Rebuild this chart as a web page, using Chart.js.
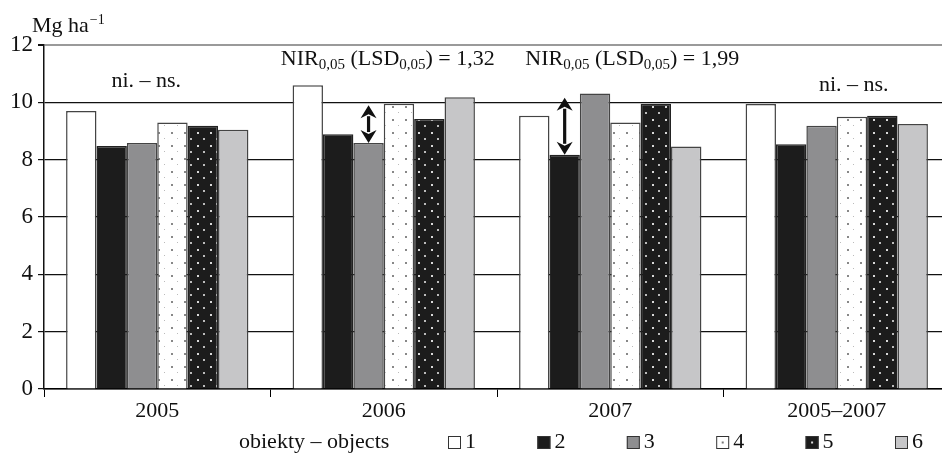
<!DOCTYPE html>
<html>
<head>
<meta charset="utf-8">
<script src="https://cdn.jsdelivr.net/npm/chart.js@4.4.1/dist/chart.umd.min.js"></script>
<style>
  html, body { margin: 0; padding: 0; background: #fff; overflow: hidden; }
  #wrap { width: 952px; height: 453px; }
</style>
</head>
<body>
<div id="wrap"><canvas id="myChart" width="952" height="453"></canvas></div>
<script>
// data (Mg ha-1)
const years = ['2005', '2006', '2007', '2005–2007']
const objectNames = ['1', '2', '3', '4', '5', '6']
const obj1 = [9.70, 10.60, 9.53, 9.94]
const obj2 = [8.48, 8.89, 8.17, 8.54]
const obj3 = [8.58, 8.58, 10.31, 9.18]
const obj4 = [9.30, 9.95, 9.30, 9.50]
const obj5 = [9.18, 9.42, 9.95, 9.53]
const obj6 = [9.04, 10.18, 8.46, 9.24]
const yTicks = [0, 2, 4, 6, 8, 10, 12]

// LSD per year, and which object the arrow sits on
const lsdValues = [null, 1.32, 1.99, null]
const lsdObject = [null, 2, 1, null]
const nsLabel = 'ni. – ns.'
const unitLabel = 'Mg ha'
const legendTitle = 'obiekty – objects'

const FONT = "'Liberation Serif', 'Times New Roman', serif"
const FS = 22

const makePattern = (bg, dots, size) => {
    const c = document.createElement('canvas')
    c.width = size
    c.height = size
    const g = c.getContext('2d')
    g.fillStyle = bg
    g.fillRect(0, 0, size, size)
    dots.forEach(([x, y, s, col]) => {
        g.fillStyle = col
        g.fillRect(x, y, s, s)
    })
    return g.createPattern(c, 'repeat')
}

const ctx = document.getElementById('myChart').getContext('2d')
const whiteDots = makePattern('#ffffff', [[2, 2, 2, '#888'], [8, 8, 1, '#bbb']], 13)
const blackDots = makePattern('#1c1c1c', [[2, 2, 2, '#d8d8d8'], [8, 8, 2, '#bcbcbc']], 13)

const styles = [
    { bg: '#ffffff', border: '#444', base: '#ffffff' },
    { bg: '#1c1c1c', border: '#222', base: '#1c1c1c' },
    { bg: '#8e8e90', border: '#444', base: '#8e8e90' },
    { bg: whiteDots, border: '#444', base: '#ffffff', dot: '#777' },
    { bg: blackDots, border: '#222', base: '#1c1c1c', dot: '#ddd' },
    { bg: '#c6c6c8', border: '#444', base: '#c6c6c8' }
]
const series = [obj1, obj2, obj3, obj4, obj5, obj6]

// text with subscript parts: [text, isSub]
const drawRich = (g, parts, x, y, size) => {
    let cx = x
    parts.forEach(([t, sub]) => {
        g.font = (sub ? Math.round(size * 0.68) : size) + 'px ' + FONT
        g.fillText(t, cx, sub ? y + 4 : y)
        cx += g.measureText(t).width
    })
}

const lsdParts = (v) => [['NIR', false], ['0,05', true], [' (LSD', false], ['0,05', true], [') = ' + v.toFixed(2).replace('.', ','), false]]

const drawArrow = (g, x, y1, y2) => {
    const head = 13
    const half = 8
    g.save()
    g.fillStyle = '#111'
    g.strokeStyle = '#111'
    g.lineWidth = 3.2
    g.beginPath()
    g.moveTo(x, y1 + head - 2)
    g.lineTo(x, y2 - head + 2)
    g.stroke()
    g.beginPath()
    g.moveTo(x, y1)
    g.lineTo(x - half, y1 + head)
    g.lineTo(x, y1 + head - 4)
    g.lineTo(x + half, y1 + head)
    g.closePath()
    g.fill()
    g.beginPath()
    g.moveTo(x, y2)
    g.lineTo(x - half, y2 - head)
    g.lineTo(x, y2 - head + 4)
    g.lineTo(x + half, y2 - head)
    g.closePath()
    g.fill()
    g.restore()
}

const notesPlugin = {
    id: 'notes',
    afterDatasetsDraw(chart) {
        const g = chart.ctx
        const xs = chart.scales.x
        const ys = chart.scales.y
        g.save()
        g.fillStyle = '#111'
        g.textBaseline = 'alphabetic'
        g.textAlign = 'left'

        // arrows + LSD text
        lsdValues.forEach((v, i) => {
            if (v == null) return
            const bar = chart.getDatasetMeta(lsdObject[i]).data[i]
            const base = series[lsdObject[i]][i]
            drawArrow(g, bar.x, ys.getPixelForValue(base + v), ys.getPixelForValue(base))
            const left = xs.getPixelForValue(i) + (i === 1 ? -103 : -85)
            drawRich(g, lsdParts(v), left, 65, FS)
        })

        // ni. - ns.
        g.font = FS + 'px ' + FONT
        g.textAlign = 'center'
        g.fillText(nsLabel, xs.getPixelForValue(0) - 11, 87)
        g.fillText(nsLabel, xs.getPixelForValue(3) + 17, 91)

        // unit label
        g.textAlign = 'left'
        g.font = FS + 'px ' + FONT
        g.fillText(unitLabel, 32, 32)
        const w = g.measureText(unitLabel).width
        g.font = '14px ' + FONT
        g.fillText('−1', 32 + w + 1, 24)

        // legend
        g.font = FS + 'px ' + FONT
        g.textBaseline = 'middle'
        g.fillText(legendTitle, 239, 442)
        chart.data.datasets.forEach((ds, i) => {
            const bx = 448 + i * 89.4
            const st = styles[i]
            g.fillStyle = st.base
            g.fillRect(bx, 436, 13, 13)
            g.strokeStyle = '#333'
            g.lineWidth = 1
            g.strokeRect(bx + 0.5, 436.5, 12, 12)
            if (st.dot) {
                g.fillStyle = st.dot
                g.fillRect(bx + 5.5, 441.5, 2, 2)
            }
            g.fillStyle = '#111'
            g.font = FS + 'px ' + FONT
            g.fillText(ds.label, bx + 17, 442)
        })
        g.restore()
    }
}

new Chart(ctx, {
    type: 'bar',
    data: {
        labels: years,
        datasets: series.map((vals, i) => ({
            label: objectNames[i],
            data: vals,
            backgroundColor: styles[i].bg,
            borderColor: styles[i].border,
            borderWidth: 1.5,
            categoryPercentage: 0.805,
            barPercentage: 1
        }))
    },
    options: {
        responsive: false,
        animation: false,
        layout: { padding: { top: 45, right: 2, left: 0, bottom: 0 } },
        plugins: {
            legend: { display: false },
            tooltip: { enabled: false }
        },
        scales: {
            x: {
                grid: { offset: true, drawOnChartArea: false, tickLength: 8, color: '#000' },
                border: { color: '#000', width: 1.5 },
                ticks: { color: '#111', font: { family: FONT, size: FS }, padding: 1 },
                afterFit: (s) => { s.height = 64 }
            },
            y: {
                min: 0,
                max: 12,
                afterBuildTicks: (s) => { s.ticks = yTicks.map(v => ({ value: v })) },
                ticks: { color: '#111', font: { family: FONT, size: 23 }, padding: 5 },
                grid: {
                    color: (c) => c.tick && c.tick.value === 12 ? '#9a9a9a' : '#111',
                    lineWidth: (c) => c.tick && c.tick.value === 12 ? 2 : 1.2,
                    tickLength: 6,
                    tickColor: '#111'
                },
                border: { color: '#111', width: 1.5 },
                afterFit: (s) => { s.width = 44 }
            }
        }
    },
    plugins: [notesPlugin]
})
</script>
</body>
</html>
